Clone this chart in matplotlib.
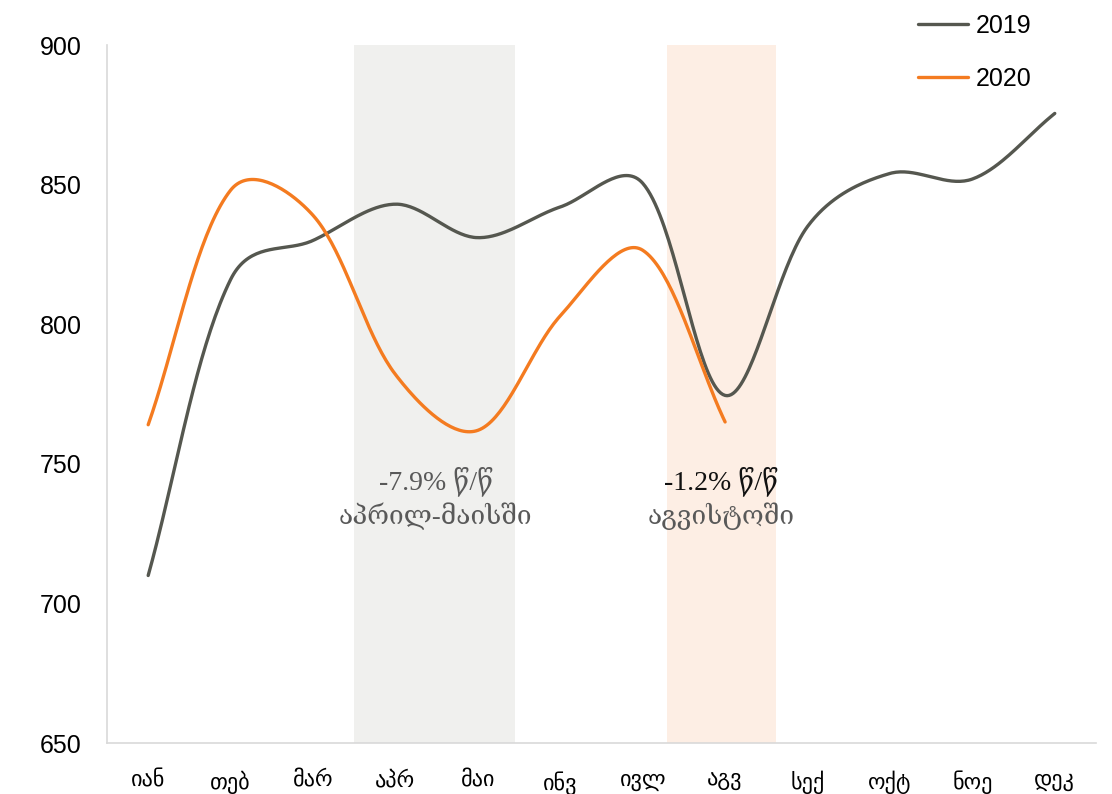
import numpy as np
import matplotlib
matplotlib.use('Agg')
import matplotlib.pyplot as plt

# *** Data *** #
months = ['იან', 'თებ', 'მარ', 'აპრ', 'მაი', 'ინვ', 'ივლ', 'აგვ', 'სექ', 'ოქტ', 'ნოე', 'დეკ']
vals_2019 = [710, 816, 830, 843, 831, 842, 850.5, 774.5, 835, 854, 852, 875.5]
vals_2020 = [764, 848, 839, 782, 762, 803, 826.5, 765]
yticks = [650, 700, 750, 800, 850, 900]

c2019 = '#55574f'
c2020 = '#f47b20'

# pixel scale of the plot area (for the smoothing, like Excel does it on screen)
PX_X = 82.4
PX_Y = 2.792


# Smoothed line: bezier segments, control arms weighted by sqrt of chord lengths
def smooth(xs, ys, n=40, f=0.5):
    P = np.column_stack([np.asarray(xs, float) * PX_X, np.asarray(ys, float) * PX_Y])
    m = len(P)
    d = np.sqrt(np.linalg.norm(np.diff(P, axis=0), axis=1))
    out = []
    t = np.linspace(0, 1, n)[:, None]
    for i in range(m - 1):
        p0, p3 = P[i], P[i + 1]
        if i == 0:
            p1 = p0 + (p3 - p0) / 3
        else:
            tan = P[i + 1] - P[i - 1]
            p1 = p0 + f * tan * d[i] / (d[i - 1] + d[i]) * (2 / 3)
        if i + 1 == m - 1:
            p2 = p3 - (p3 - p0) / 3
        else:
            tan = P[i + 2] - P[i]
            p2 = p3 - f * tan * d[i] / (d[i] + d[i + 1]) * (2 / 3)
        b = (1 - t) ** 3 * p0 + 3 * (1 - t) ** 2 * t * p1 + 3 * (1 - t) * t ** 2 * p2 + t ** 3 * p3
        out.append(b)
    out = np.vstack(out)
    return out[:, 0] / PX_X, out[:, 1] / PX_Y


fig = plt.figure(figsize=(11.12, 7.94), dpi=100)
ax = fig.add_axes([0.0962, 0.0642, 0.8894, 0.8791])

# Shaded periods
ax.axvspan(2.5, 4.45, color='#f0f0ee', lw=0, zorder=0)
ax.axvspan(6.3, 7.62, color='#fdeee4', lw=0, zorder=0)

x19 = np.arange(len(vals_2019))
x20 = np.arange(len(vals_2020))
sx, sy = smooth(x19, vals_2019)
ax.plot(sx, sy, color=c2019, lw=2.4, label='2019', solid_capstyle='round')
sx, sy = smooth(x20, vals_2020)
ax.plot(sx, sy, color=c2020, lw=2.4, label='2020', solid_capstyle='round')

ax.set_xlim(-0.5, 11.5)
ax.set_ylim(650, 900)
ax.set_xticks(np.arange(len(months)))
ax.set_xticklabels(months, fontsize=16, family='DejaVu Sans')
ax.set_yticks(yticks)
ax.set_yticklabels([str(v) for v in yticks], fontsize=18, family='Liberation Sans')
ax.tick_params(axis='x', length=0, pad=20)
ax.tick_params(axis='y', length=0, pad=18)

for s in ['top', 'right']:
    ax.spines[s].set_visible(False)
for s in ['left', 'bottom']:
    ax.spines[s].set_color('#d9d9d9')
    ax.spines[s].set_linewidth(1.2)

# Annotations
fam = ['Liberation Serif', 'DejaVu Serif']
ax.text(3.49, 743.8, '-7.9% წ/წ', ha='center', va='center', fontsize=20,
        color='#595959', family=fam)
ax.text(3.49, 731.3, 'აპრილ-მაისში', ha='center', va='center', fontsize=19,
        color='#595959', family=fam)
ax.text(6.95, 743.8, '-1.2% წ/წ', ha='center', va='center', fontsize=20,
        color='#111111', family=fam)
ax.text(6.95, 731.3, 'აგვისტოში', ha='center', va='center', fontsize=19,
        color='#595959', family=fam)

leg = fig.legend(loc='upper left', bbox_to_anchor=(918 / 1112, 1 - 14 / 794), frameon=False,
                 handlelength=2.0, handletextpad=0.3, labelspacing=1.15,
                 borderpad=0, borderaxespad=0,
                 prop={'family': 'Liberation Sans', 'size': 18})

fig.savefig('out.png', dpi=100)
